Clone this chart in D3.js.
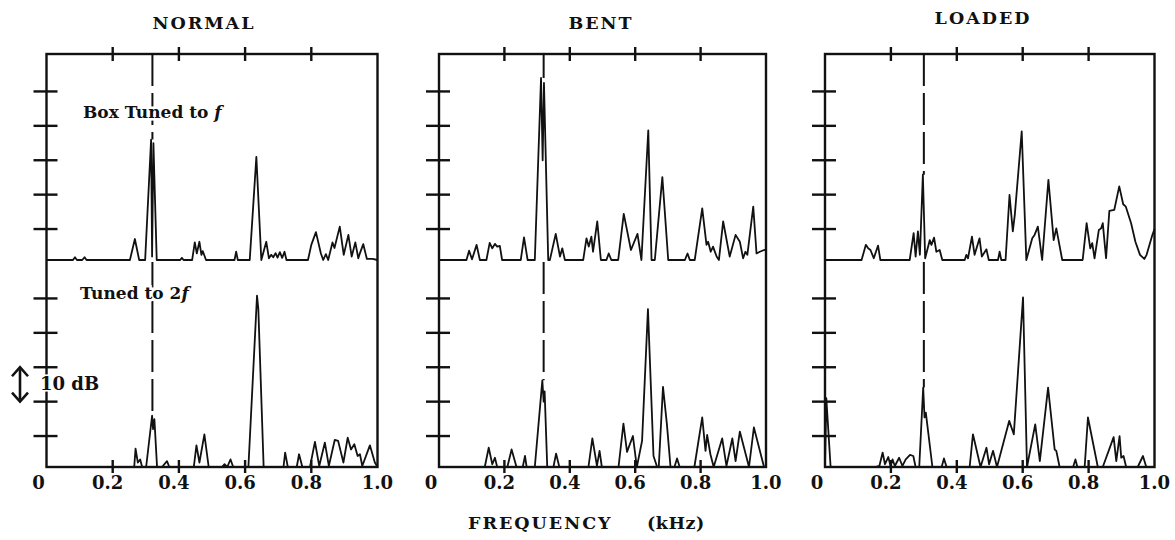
<!DOCTYPE html>
<html><head><meta charset="utf-8">
<script src="https://cdn.jsdelivr.net/npm/d3@7/dist/d3.min.js"></script>
<style>
html,body{margin:0;padding:0;background:#fff;}
svg{display:block;}
text{font-family:"DejaVu Serif","Liberation Serif",serif;font-weight:bold;fill:#111;}
</style></head><body>
<svg id="chart" width="1175" height="540"></svg>
<script>
// ---------- data ----------
const panelTitles = ["NORMAL", "BENT", "LOADED"];
const markerFreq = [0.32, 0.32, 0.30];           // box tuning frequency f (kHz)
const xTicks = [0, 0.2, 0.4, 0.6, 0.8, 1.0];
const xTickLabels = ["0", "0.2", "0.4", "0.6", "0.8", "1.0"];
const levelTicks = [10, 20, 30, 40, 50];          // dB marks, 10 dB apart
const floorDb = 1;

// [frequency kHz, level dB]  — box tuned to f (upper traces)
const normalF = [[0,1],[0.080,1],[0.086,1.8],[0.092,1],[0.108,1],[0.115,1.8],[0.121,1],[0.252,1],[0.267,7.1],[0.280,1],[0.298,1],[0.316,36],[0.319,2],[0.323,35],[0.333,1],[0.404,1],[0.409,1.6],[0.414,1],[0.440,1],[0.448,6.1],[0.454,2.9],[0.462,6.3],[0.468,2.5],[0.472,3.6],[0.482,1],[0.568,1],[0.573,3.4],[0.578,1],[0.614,1],[0.634,31],[0.649,1],[0.664,6.3],[0.672,1.5],[0.679,2.5],[0.685,1.8],[0.692,3],[0.698,1.7],[0.705,3.3],[0.712,1.6],[0.719,3.4],[0.725,1],[0.790,1],[0.800,5.4],[0.814,9.1],[0.829,2.9],[0.836,1],[0.844,2.7],[0.851,1],[0.864,6.1],[0.870,4.5],[0.886,10.7],[0.898,2.5],[0.912,8.3],[0.922,2],[0.933,6.1],[0.942,1.5],[0.947,3],[0.957,5.6],[0.968,1.3],[0.985,1.3],[1.0,1]];
const bentF = [[0,1],[0.084,1],[0.092,3.7],[0.101,1.2],[0.115,5.4],[0.125,1],[0.145,1],[0.155,6],[0.163,4.4],[0.171,5.7],[0.178,4.9],[0.186,5.1],[0.193,1],[0.250,1],[0.260,7.6],[0.271,1],[0.293,1],[0.312,53.9],[0.317,30],[0.321,52.5],[0.334,1],[0.339,1],[0.357,8.6],[0.370,2],[0.377,4.4],[0.385,1],[0.441,1],[0.451,7.3],[0.458,4.9],[0.466,7.8],[0.471,3.4],[0.484,12.2],[0.495,1],[0.512,1],[0.519,2.9],[0.527,1],[0.548,1],[0.565,14.4],[0.587,3.9],[0.607,8.6],[0.619,1],[0.640,38.7],[0.650,1],[0.660,1],[0.683,25.1],[0.701,1],[0.752,1],[0.760,2.9],[0.767,1],[0.782,1],[0.805,16],[0.818,5.4],[0.823,6.3],[0.831,3.4],[0.838,4.9],[0.849,2],[0.856,1],[0.869,12.2],[0.889,2],[0.907,8.3],[0.920,6.3],[0.930,1.5],[0.937,3.4],[0.943,2.5],[0.961,16.5],[0.971,2.9],[0.981,3.4],[0.994,3.9],[1.0,4]];
const loadedF = [[0,1],[0.111,1],[0.124,5.4],[0.131,4.4],[0.138,3.9],[0.148,1.5],[0.161,5.2],[0.168,1],[0.257,1],[0.269,8.8],[0.275,2],[0.282,9.3],[0.288,2.5],[0.297,25.8],[0.304,1.5],[0.318,6.8],[0.323,5.4],[0.331,7.5],[0.338,3.4],[0.348,3.9],[0.356,1],[0.424,1],[0.429,2.5],[0.434,1.5],[0.446,7.8],[0.454,2.5],[0.469,7.3],[0.476,2],[0.490,4.1],[0.497,1],[0.525,1],[0.530,3.4],[0.535,1],[0.548,1],[0.560,19.9],[0.570,9.3],[0.576,14.1],[0.597,38.4],[0.611,1],[0.629,7.3],[0.636,8.3],[0.646,10.7],[0.659,1],[0.678,24.3],[0.694,6.8],[0.702,10.2],[0.720,1],[0.782,1],[0.794,11.7],[0.805,4.4],[0.811,5.9],[0.818,1.5],[0.831,9.7],[0.838,10.2],[0.843,11.7],[0.853,1.5],[0.863,15.3],[0.878,15.6],[0.893,22.4],[0.905,17.2],[0.913,16.5],[0.929,11.7],[0.942,6.3],[0.956,2.5],[0.969,1.3],[0.976,2.5],[0.993,8.1],[1.0,10]];

// box tuned to 2f (lower traces)
const normal2F = [[0,1],[0.265,1],[0.269,6.3],[0.276,2.3],[0.283,3.2],[0.289,1],[0.301,1],[0.319,15.9],[0.322,12],[0.326,14.9],[0.334,1],[0.349,1],[0.364,2.7],[0.371,1],[0.445,1],[0.453,7.3],[0.462,2.3],[0.477,10.5],[0.490,1],[0.530,1],[0.538,1.8],[0.546,1],[0.556,3.2],[0.564,1],[0.610,1],[0.636,50.8],[0.640,46.9],[0.656,1],[0.716,1],[0.721,5.2],[0.729,1],[0.756,1],[0.763,4.7],[0.773,1],[0.796,1],[0.811,8.3],[0.824,1.3],[0.841,8.1],[0.853,1.3],[0.871,8.9],[0.881,8.6],[0.897,2.3],[0.910,9.5],[0.920,6.1],[0.930,7.6],[0.940,4.2],[0.947,4.7],[0.954,1.3],[0.977,7.3],[0.992,2.3],[1.0,1]];
const bent2F = [[0,1],[0.140,1],[0.152,6.6],[0.163,1.8],[0.171,3.7],[0.178,1],[0.209,1],[0.222,6.1],[0.237,1],[0.256,1],[0.263,4.2],[0.268,1],[0.293,1],[0.316,26.2],[0.320,20],[0.323,23],[0.331,1],[0.350,1],[0.358,4.9],[0.368,1],[0.457,1],[0.469,9.3],[0.483,1.3],[0.491,5.7],[0.498,1],[0.549,1],[0.564,13.6],[0.575,5.4],[0.593,10],[0.605,1],[0.621,8.6],[0.639,46.9],[0.656,4.2],[0.667,1],[0.672,1],[0.685,24.3],[0.697,13.4],[0.708,1],[0.720,1],[0.728,3.5],[0.736,1],[0.781,1],[0.805,15.4],[0.815,5.7],[0.820,10.3],[0.830,4.7],[0.840,1],[0.866,9.3],[0.879,1.3],[0.897,9.3],[0.907,2.7],[0.920,11.3],[0.948,1],[0.963,12.5],[0.994,1],[1.0,1]];
const loaded2F = [[0,1],[0.004,21],[0.017,1],[0.152,1],[0.165,1.3],[0.175,5.2],[0.182,1.8],[0.192,3.9],[0.199,1.3],[0.205,3.2],[0.212,1.3],[0.225,3.7],[0.235,1.3],[0.245,3.2],[0.258,4.5],[0.268,4.2],[0.275,1],[0.286,1],[0.298,24.1],[0.302,15.4],[0.306,16.8],[0.326,1],[0.354,1],[0.361,3.5],[0.369,1],[0.439,1],[0.449,10.5],[0.472,1],[0.490,6.6],[0.498,1.8],[0.510,5.7],[0.522,1],[0.559,14.4],[0.573,10.5],[0.601,50.3],[0.613,1],[0.638,13.4],[0.652,2.7],[0.677,24.1],[0.697,6.1],[0.702,5.7],[0.712,1],[0.753,1],[0.760,3.2],[0.766,1],[0.788,1],[0.798,15.4],[0.828,1],[0.843,1],[0.876,9.7],[0.884,2.7],[0.894,10],[0.899,3.7],[0.906,4.2],[0.914,1],[0.949,1],[0.965,4.2],[0.975,1],[1.0,1]];

const upperTraces = [normalF, bentF, loadedF];
const lowerTraces = [normal2F, bent2F, loaded2F];
const upperLabel = ["Box Tuned to ", "f"];
const lowerLabel = ["Tuned to 2", "f"];
const scaleLabel = "10 dB";
const axisTitle = ["FREQUENCY", "(kHz)"];

// ---------- layout ----------
const svg = d3.select("#chart");
const lefts = [46.5, 439, 825];
const rights = [377.5, 766, 1154.5];
const topY = 54, midY = 260, botY = 467;
const pxPerDb = 3.44;
const titleX = [204, 601, 983], titleY = [29, 29, 24];

const line = (x, y) => d3.line().x(d => x(d[0])).y(d => y(Math.max(d[1], floorDb)));

for (let i = 0; i < 3; i++) {
  const g = svg.append("g");
  const x = d3.scaleLinear().domain([0, 1]).range([lefts[i], rights[i]]);
  const yU = d3.scaleLinear().domain([floorDb, floorDb + 50]).range([midY, midY - 50 * pxPerDb]);
  const yL = d3.scaleLinear().domain([floorDb, floorDb + 50]).range([botY, botY - 50 * pxPerDb]);

  // title
  g.append("text").attr("x", titleX[i]).attr("y", titleY[i]).attr("text-anchor", "middle")
    .attr("font-size", 17.5).attr("letter-spacing", 2).text(panelTitles[i]);

  // traces
  [[upperTraces[i], yU], [lowerTraces[i], yL]].forEach(([data, y]) => {
    g.append("path").datum(data).attr("d", line(x, y))
      .attr("fill", "none").attr("stroke", "#111").attr("stroke-width", 1.8)
      .attr("stroke-linejoin", "round");
  });

  // marker dashed line at f
  const peakNear = (data) => d3.max(data.filter(d => Math.abs(d[0] - markerFreq[i]) < 0.012), d => d[1]);
  const xm = x(markerFreq[i]);
  g.append("line").attr("x1", xm).attr("x2", xm).attr("y1", topY).attr("y2", yU(peakNear(upperTraces[i])))
    .attr("stroke", "#111").attr("stroke-width", 2).attr("stroke-dasharray", "32,7");
  g.append("line").attr("x1", xm).attr("x2", xm).attr("y1", midY + 2).attr("y2", yL(peakNear(lowerTraces[i])))
    .attr("stroke", "#111").attr("stroke-width", 2).attr("stroke-dasharray", "32,7");

  // frame
  g.append("rect").attr("x", lefts[i]).attr("y", topY).attr("width", rights[i] - lefts[i]).attr("height", botY - topY)
    .attr("fill", "none").attr("stroke", "#111").attr("stroke-width", 2.4);

  // frequency ticks on top and bottom edges
  const inner = xTicks.filter(t => t > 0 && t < 1);
  g.selectAll(null).data(inner).enter().append("line")
    .attr("x1", d => x(d)).attr("x2", d => x(d)).attr("y1", topY - 7).attr("y2", topY + 7)
    .attr("stroke", "#111").attr("stroke-width", 2.4);
  g.selectAll(null).data(inner).enter().append("line")
    .attr("x1", d => x(d)).attr("x2", d => x(d)).attr("y1", botY - 7).attr("y2", botY + 6)
    .attr("stroke", "#111").attr("stroke-width", 2.4);

  // level ticks on left edge
  [yU, yL].forEach(y => {
    g.selectAll(null).data(levelTicks).enter().append("line")
      .attr("x1", lefts[i] - 13).attr("x2", lefts[i] + 11).attr("y1", d => y(d)).attr("y2", d => y(d))
      .attr("stroke", "#111").attr("stroke-width", 2.4);
  });

  // tick labels
  g.selectAll(null).data(xTicks).enter().append("text")
    .attr("x", (d, k) => x(d) + (k === 0 ? -8 : (k === 5 ? 0 : -5))).attr("y", 489).attr("text-anchor", "middle")
    .attr("font-size", 18).text((d, k) => xTickLabels[k]);

  if (i === 0) {
    const t1 = g.append("text").attr("x", 83).attr("y", 118).attr("font-size", 17)
      .attr("stroke", "#fff").attr("stroke-width", 5).attr("paint-order", "stroke");
    t1.append("tspan").text(upperLabel[0]);
    t1.append("tspan").attr("font-style", "italic").text(upperLabel[1]);
    const t2 = g.append("text").attr("x", 80).attr("y", 299).attr("font-size", 17)
      .attr("stroke", "#fff").attr("stroke-width", 5).attr("paint-order", "stroke");
    t2.append("tspan").text(lowerLabel[0]);
    t2.append("tspan").attr("font-style", "italic").text(lowerLabel[1]);

    // 10 dB scale arrow between two level ticks
    const ya = yL(30), yb = yL(20), xa = 20;
    g.append("path").attr("d", `M${xa},${ya + 2}L${xa},${yb - 2}`).attr("stroke", "#111").attr("stroke-width", 2.6).attr("fill", "none");
    g.append("path").attr("d", `M${xa - 8},${ya + 9}L${xa},${ya}L${xa + 8},${ya + 9}M${xa - 8},${yb - 9}L${xa},${yb}L${xa + 8},${yb - 9}`)
      .attr("stroke", "#111").attr("stroke-width", 2.6).attr("fill", "none");
    g.append("text").attr("x", 40).attr("y", 390).attr("font-size", 18).attr("stroke", "#fff").attr("stroke-width", 3)
      .attr("paint-order", "stroke").text(scaleLabel);
  }
}

svg.append("text").attr("x", 468).attr("y", 529).attr("font-size", 17.5).attr("letter-spacing", 2).text(axisTitle[0]);
svg.append("text").attr("x", 647).attr("y", 529).attr("font-size", 17.5).attr("letter-spacing", 0.5).text(axisTitle[1]);
</script>
</body></html>
